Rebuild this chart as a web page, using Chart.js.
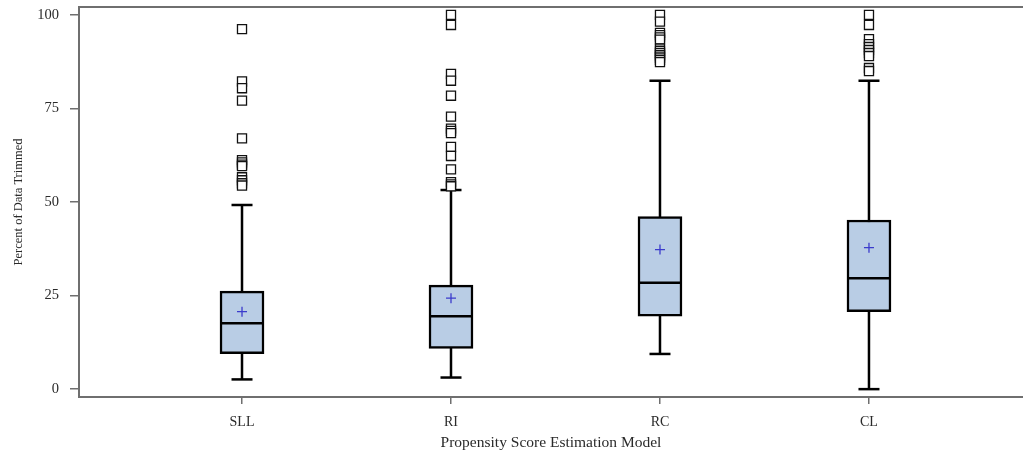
<!DOCTYPE html>
<html>
<head>
<meta charset="utf-8">
<script src="https://cdn.jsdelivr.net/npm/chart.js@4.4.1/dist/chart.umd.min.js"></script>
<style>
  html, body { margin: 0; padding: 0; background: #fff; }
  #wrap { width: 1023px; height: 453px; }
</style>
</head>
<body>
<div id="wrap"><canvas id="myChart"></canvas></div>
<script>
// box plot values
const categories = ['SLL', 'RI', 'RC', 'CL'];
const q1 = [9.5, 10.9, 19.5, 20.7];
const median = [17.6, 19.5, 28.4, 29.6];
const q3 = [26.2, 27.8, 46.1, 45.2];
const mean = [20.7, 24.3, 37.3, 37.8];
const whiskerLow = [2.6, 3.1, 9.4, 0];
const whiskerHigh = [49.2, 53.2, 82.4, 82.4];
const outliersSLL = [96.2, 82.2, 80.4, 77.1, 67.0, 61.2, 60.6, 60.0, 59.6, 56.6, 55.8, 55.0, 54.4];
const outliersRI = [100, 97.3, 84.2, 82.4, 78.4, 72.8, 69.6, 69.0, 68.4, 64.7, 62.3, 58.7, 55.3, 54.7, 54.2];
const outliersRC = [100, 98.2, 95.2, 94.6, 94.0, 93.4, 91.0, 90.4, 89.8, 89.2, 88.6, 88.0, 87.4];
const outliersCL = [100, 97.3, 93.5, 92.2, 91.4, 90.6, 89.8, 89.0, 85.8, 85.0];
const outliers = [outliersSLL, outliersRI, outliersRC, outliersCL];
const yTicks = [0, 25, 50, 75, 100];

const gray = '#6f6f6f';
const fontFace = "'Liberation Serif', 'Times New Roman', serif";
const textColor = '#2a2a2a';

const xs = categories.map((c, i) => i);

const boxData = xs.map(i => ({ x: i, y: [q1[i], q3[i]] }));
const medianData = xs.map(i => ({ x: i, y: median[i] }));
const meanData = xs.map(i => ({ x: i, y: mean[i] }));
const capData = xs.flatMap(i => [{ x: i, y: whiskerLow[i] }, { x: i, y: whiskerHigh[i] }]);
// null y breaks the line between categories
const whiskerData = xs.flatMap(i => [{ x: i, y: whiskerLow[i] }, { x: i, y: whiskerHigh[i] }, { x: i, y: null }]);
const outlierData = xs.flatMap(i => outliers[i].map(v => ({ x: i, y: v })));

// keep chart.js from padding the plot area for edge labels
function noPad(scale) {
  scale.paddingLeft = 0;
  scale.paddingRight = 0;
  scale.paddingTop = 0;
  scale.paddingBottom = 0;
}

const ctx = document.getElementById('myChart').getContext('2d');

new Chart(ctx, {
  type: 'bar',
  data: {
    datasets: [
      {
        type: 'scatter',
        data: outlierData,
        pointStyle: 'rect',
        pointRadius: 6.4,
        pointBackgroundColor: '#ffffff',
        pointBorderColor: '#111111',
        pointBorderWidth: 1.3,
        order: 0
      },
      {
        type: 'scatter',
        data: meanData,
        pointStyle: 'cross',
        pointRadius: 5,
        pointBorderColor: '#3b3bcc',
        pointBorderWidth: 1.3,
        order: 1
      },
      {
        type: 'scatter',
        data: medianData,
        pointStyle: 'line',
        pointRadius: 21,
        pointBorderColor: '#000000',
        pointBorderWidth: 2.5,
        order: 2
      },
      {
        type: 'scatter',
        data: capData,
        pointStyle: 'line',
        pointRadius: 10.5,
        pointBorderColor: '#000000',
        pointBorderWidth: 2.5,
        order: 3
      },
      {
        type: 'bar',
        data: boxData,
        backgroundColor: '#b9cde5',
        borderColor: '#000000',
        borderWidth: 2.5,
        borderSkipped: false,
        barThickness: 44,
        grouped: false,
        order: 4
      },
      {
        type: 'line',
        data: whiskerData,
        borderColor: '#000000',
        borderWidth: 2.5,
        pointRadius: 0,
        spanGaps: false,
        order: 5
      }
    ]
  },
  options: {
    responsive: true,
    maintainAspectRatio: false,
    animation: false,
    layout: { padding: 0, autoPadding: false },
    plugins: {
      legend: { display: false },
      tooltip: { enabled: false }
    },
    scales: {
      x: {
        type: 'linear',
        position: 'bottom',
        min: -0.78,
        max: 3.737,
        offset: false,
        afterBuildTicks: scale => { scale.ticks = xs.map(v => ({ value: v })); },
        afterFit: scale => { scale.height = 56; noPad(scale); },
        grid: { offset: false, drawOnChartArea: false, drawTicks: true, tickLength: 7, tickColor: gray, lineWidth: 1.5 },
        border: { display: true, color: gray, width: 2 },
        ticks: {
          padding: 10,
          color: textColor,
          font: { family: fontFace, size: 14 },
          callback: v => categories[v]
        },
        title: {
          display: true,
          text: 'Propensity Score Estimation Model',
          color: textColor,
          font: { family: fontFace, size: 15.5 },
          padding: { top: 0, bottom: 1 }
        }
      },
      xTop: {
        type: 'linear',
        position: 'top',
        min: -0.78,
        max: 3.737,
        afterFit: scale => { scale.height = 7; noPad(scale); },
        grid: { display: false, drawTicks: false },
        border: { display: true, color: gray, width: 2 },
        ticks: { display: false }
      },
      y: {
        type: 'linear',
        min: -2.1,
        max: 102.1,
        afterBuildTicks: scale => { scale.ticks = yTicks.map(v => ({ value: v })); },
        afterFit: scale => { scale.width = 79; noPad(scale); },
        grid: { drawOnChartArea: false, drawTicks: true, tickLength: 9, tickColor: gray, lineWidth: 1.5 },
        border: { display: true, color: gray, width: 2 },
        ticks: {
          padding: 11,
          color: textColor,
          font: { family: fontFace, size: 14.5 }
        },
        title: {
          display: true,
          text: 'Percent of Data Trimmed',
          color: textColor,
          font: { family: fontFace, size: 12.5 },
          padding: { top: 11, bottom: 0 }
        }
      }
    }
  }
});
</script>
</body>
</html>
